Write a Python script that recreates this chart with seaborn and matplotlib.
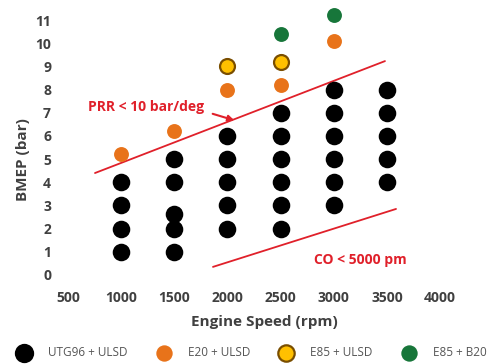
import matplotlib
matplotlib.use("Agg")
import matplotlib.pyplot as plt
import seaborn as sns
import pandas as pd

# ---- data ----
utg_speed = [1000, 1000, 1000, 1000,
             1500, 1500, 1500, 1500, 1500,
             2000, 2000, 2000, 2000, 2000,
             2500, 2500, 2500, 2500, 2500, 2500,
             3000, 3000, 3000, 3000, 3000, 3000,
             3500, 3500, 3500, 3500, 3500]
utg_bmep = [1, 2, 3, 4,
            1, 2, 2.65, 4, 5,
            2, 3, 4, 5, 6,
            2, 3, 4, 5, 6, 7,
            3, 4, 5, 6, 7, 8,
            4, 5, 6, 7, 8]
e20_speed = [1000, 1500, 2000, 2500, 3000]
e20_bmep = [5.2, 6.2, 8.0, 8.2, 10.1]
e85_speed = [2000, 2500]
e85_bmep = [9.0, 9.2]
b20_speed = [2500, 3000]
b20_bmep = [10.4, 11.2]

prr_x = [754, 3482]
prr_y = [4.4, 9.23]
co_x = [1864, 3586]
co_y = [0.35, 2.85]

x_ticks = [500, 1000, 1500, 2000, 2500, 3000, 3500, 4000]
y_ticks = list(range(0, 12))

labels = ["UTG96 + ULSD", "E20 + ULSD", "E85 + ULSD", "E85 + B20"]

# ---- style ----
sns.set_style("white")
plt.rcParams["font.family"] = ["Open Sans", "DejaVu Sans"]

fig = plt.figure(figsize=(4.95, 3.64), dpi=100)
ax = fig.add_axes([58 / 495, 1 - 287 / 364, 412 / 495, 285 / 364])

red = "#E0202A"
dark = "#404040"

df_utg = pd.DataFrame({"speed": utg_speed, "bmep": utg_bmep})
df_e20 = pd.DataFrame({"speed": e20_speed, "bmep": e20_bmep})
df_e85 = pd.DataFrame({"speed": e85_speed, "bmep": e85_bmep})
df_b20 = pd.DataFrame({"speed": b20_speed, "bmep": b20_bmep})

sns.lineplot(x=prr_x, y=prr_y, ax=ax, color=red, linewidth=1.3, legend=False)
sns.lineplot(x=co_x, y=co_y, ax=ax, color=red, linewidth=1.3, legend=False)

sns.scatterplot(data=df_utg, x="speed", y="bmep", ax=ax, color="black", s=160,
                edgecolor="black", linewidth=0, label=labels[0], legend=False, zorder=3)
sns.scatterplot(data=df_e20, x="speed", y="bmep", ax=ax, color="#E8731A", s=115,
                edgecolor="#E8731A", linewidth=0, label=labels[1], legend=False, zorder=3)
sns.scatterplot(data=df_e85, x="speed", y="bmep", ax=ax, color="#FFC000", s=115,
                edgecolor="#7A4E00", linewidth=1.6, label=labels[2], legend=False, zorder=3)
sns.scatterplot(data=df_b20, x="speed", y="bmep", ax=ax, color="#17763A", s=115,
                edgecolor="#17763A", linewidth=0, label=labels[3], legend=False, zorder=3)

ax.set_xlim(406, 4282)
ax.set_ylim(-0.518, 11.78)
ax.set_xticks(x_ticks)
ax.set_yticks(y_ticks)
ax.set_xticklabels([str(t) for t in x_ticks], fontsize=10, fontweight="bold", color=dark)
ax.set_yticklabels([str(t) for t in y_ticks], fontsize=10, fontweight="bold", color=dark)
ax.tick_params(axis="both", length=0)
ax.tick_params(axis="x", pad=3)
ax.tick_params(axis="y", pad=5)
for sp in ax.spines.values():
    sp.set_visible(False)

ax.set_xlabel("Engine Speed (rpm)", fontsize=11, fontweight="bold", color=dark, labelpad=7)
ax.set_ylabel("")
fig.text(23 / 495, 1 - 160 / 364, "BMEP (bar)", rotation=90, ha="center", va="center",
         fontsize=11, fontweight="bold", color=dark)

ax.text(1234, 7.25, "PRR < 10 bar/deg", color=red, fontsize=10, fontweight="bold",
        ha="center", va="center")
ax.annotate("", xy=(2090, 6.64), xytext=(1836, 6.99),
            arrowprops=dict(arrowstyle="-|>", color=red, lw=1.5, mutation_scale=9))
ax.text(3247, 0.65, "CO < 5000 pm", color=red, fontsize=10, fontweight="bold",
        ha="center", va="center")

handles, labs = ax.get_legend_handles_labels()
fig.legend(handles, labs, loc="center left", bbox_to_anchor=(0.015, 1 - 353 / 364),
           ncol=4, frameon=False, fontsize=8.5, labelcolor="#555555",
           handletextpad=1.03, columnspacing=2.07, markerscale=1.1, borderaxespad=0)

fig.savefig("out.png", dpi=100)
